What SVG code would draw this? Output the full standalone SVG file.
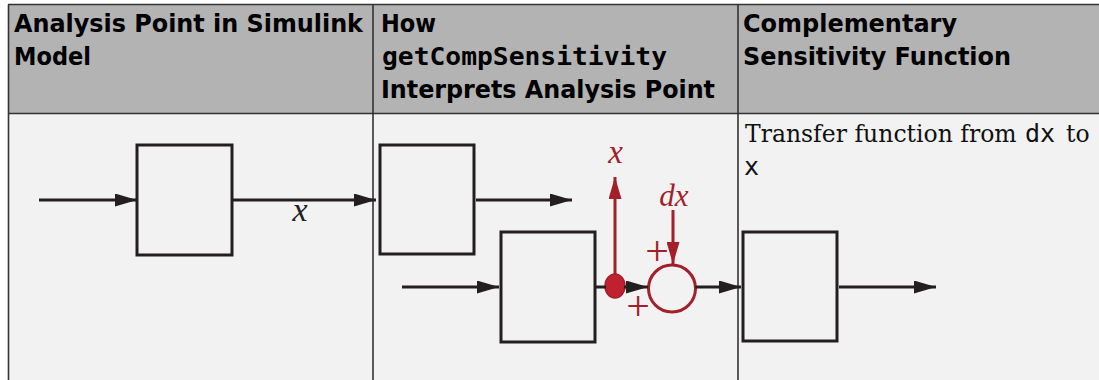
<svg xmlns="http://www.w3.org/2000/svg" width="1099" height="380" viewBox="0 0 1099 380">
  <defs>
    <style>
      .hdr { font-family: "DejaVu Sans", sans-serif; font-weight: bold; font-size: 24px; fill: #000; }
      .hdrmono { font-family: "DejaVu Sans Mono", monospace; font-weight: bold; font-size: 24px; fill: #000; }
      .body { font-family: "DejaVu Serif", serif; font-size: 23.5px; fill: #111; }
      .mono { font-family: "DejaVu Sans Mono", monospace; font-size: 25px; fill: #111; }
      .grid { stroke: #333; stroke-width: 1.6; fill: none; }
      .blk { fill: none; stroke: #231f20; stroke-width: 3; }
      .wire { fill: none; stroke: #231f20; stroke-width: 3; }
      .rwire { fill: none; stroke: #a31f2a; stroke-width: 3; }
      .math { font-family: "Liberation Serif", serif; font-style: italic; }
      .plus { font-family: "Liberation Serif", serif; font-size: 42px; fill: #a31f2a; }
      .rtext { fill: #a31f2a; }
    </style>
    <marker id="ah" viewBox="0 0 22 13" refX="22" refY="6.5" markerWidth="22" markerHeight="13" markerUnits="userSpaceOnUse" orient="auto">
      <path d="M0,0 L22,6.5 L0,13 Z" fill="#231f20"/>
    </marker>
    <marker id="ahr" viewBox="0 0 22 13" refX="22" refY="6.5" markerWidth="22" markerHeight="13" markerUnits="userSpaceOnUse" orient="auto">
      <path d="M0,0 L22,6.5 L0,13 Z" fill="#a31f2a"/>
    </marker>
  </defs>

  <!-- table backgrounds -->
  <g id="table">
    <rect x="8" y="4.5" width="1095" height="109" fill="#b3b3b3"/>
    <rect x="8" y="113.5" width="1095" height="270" fill="#f2f2f2"/>
    <line class="grid" x1="8" y1="4.5" x2="1099" y2="4.5"/>
    <line class="grid" x1="8" y1="113.5" x2="1099" y2="113.5"/>
    <line class="grid" x1="8.5" y1="4.5" x2="8.5" y2="380"/>
    <line class="grid" x1="373" y1="4.5" x2="373" y2="380"/>
    <line class="grid" x1="738" y1="4.5" x2="738" y2="380"/>
  </g>

  <!-- headers -->
  <g id="header1">
    <text class="hdr" x="14" y="32" textLength="349" lengthAdjust="spacingAndGlyphs">Analysis Point in Simulink</text>
    <text class="hdr" x="14" y="65" textLength="77" lengthAdjust="spacingAndGlyphs">Model</text>
  </g>
  <g id="header2">
    <text class="hdr" x="381" y="32" textLength="55" lengthAdjust="spacingAndGlyphs">How</text>
    <text class="hdrmono" x="382" y="65" textLength="285" lengthAdjust="spacingAndGlyphs">getCompSensitivity</text>
    <text class="hdr" x="381" y="98" textLength="334" lengthAdjust="spacingAndGlyphs">Interprets Analysis Point</text>
  </g>
  <g id="header3">
    <text class="hdr" x="743" y="32" textLength="214" lengthAdjust="spacingAndGlyphs">Complementary</text>
    <text class="hdr" x="743" y="65" textLength="268" lengthAdjust="spacingAndGlyphs">Sensitivity Function</text>
  </g>

  <!-- body text column 3 -->
  <g id="desc">
    <text class="body" x="745" y="142">Transfer function from</text>
    <text class="mono" x="1025" y="142">dx</text>
    <text class="body" x="1066" y="142">to</text>
    <text class="mono" x="744" y="175">x</text>
  </g>

  <!-- nodes -->
  <g id="col1-block"><rect class="blk" x="137" y="145" width="95" height="110"/></g>
  <g id="col2-block-top"><rect class="blk" x="380" y="145" width="94" height="109"/></g>
  <g id="col2-block-bottom"><rect class="blk" x="501" y="232" width="94" height="110"/></g>
  <g id="col3-block"><rect class="blk" x="743" y="232" width="94" height="109"/></g>
  <g id="analysis-point">
    <ellipse cx="615" cy="286" rx="10" ry="12" fill="#c1202f" stroke="#a31f2a" stroke-width="1.5"/>
  </g>
  <g id="sum">
    <circle cx="672" cy="288.5" r="23.5" fill="none" stroke="#a31f2a" stroke-width="3"/>
    <text class="plus" x="657" y="265" text-anchor="middle">+</text>
    <text class="plus" x="638" y="320" text-anchor="middle">+</text>
  </g>

  <!-- connectors -->
  <g id="connectors">
    <line class="wire" x1="39" y1="200" x2="137" y2="200" marker-end="url(#ah)"/>
    <line class="wire" x1="232" y1="200" x2="376" y2="200" marker-end="url(#ah)"/>
    <text class="math" x="300" y="221" font-size="34" text-anchor="middle" fill="#231f20">x</text>
    <line class="wire" x1="476" y1="200" x2="572" y2="200" marker-end="url(#ah)"/>
    <line class="wire" x1="402" y1="287" x2="499" y2="287" marker-end="url(#ah)"/>
    <line class="wire" x1="596" y1="287" x2="606" y2="287"/>
    <line class="wire" x1="624" y1="287" x2="648" y2="287" marker-end="url(#ah)"/>
    <line class="wire" x1="695.5" y1="287" x2="741" y2="287" marker-end="url(#ah)"/>
    <line class="wire" x1="839" y1="287" x2="936" y2="287" marker-end="url(#ah)"/>
    <line class="rwire" x1="615" y1="275" x2="615" y2="177" marker-end="url(#ahr)"/>
    <text class="math rtext" x="615.5" y="163" font-size="33" text-anchor="middle">x</text>
    <line class="rwire" x1="673" y1="210" x2="673" y2="264" marker-end="url(#ahr)"/>
    <text class="math rtext" x="674" y="206" font-size="31" text-anchor="middle">dx</text>
  </g>
</svg>
